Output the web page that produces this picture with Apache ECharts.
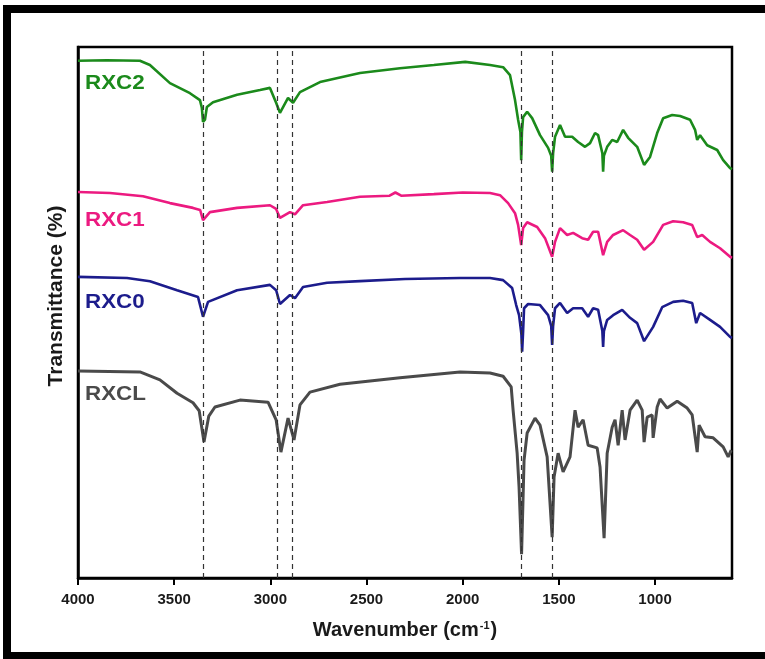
<!DOCTYPE html>
<html lang="en">
<head>
    <meta charset="UTF-8">
    <title>FTIR RXC</title>
    <style>
        html, body { margin: 0; padding: 0; background: #fff; }
        #main { width: 765px; height: 659px; }
    </style>
</head>
<body>
    <div id="main"></div>
    <script src="https://cdn.jsdelivr.net/npm/echarts@6/dist/echarts.min.js"></script>
    <script>
        // wavenumber (cm-1) and stacked transmittance
        const rxc2Wn = [4000, 3850, 3678, 3626, 3522, 3418, 3366, 3356, 3350, 3340, 3330, 3298, 3173, 3054, 3002, 2970, 2950, 2908, 2882, 2846, 2742, 2534, 2326, 2150, 1987, 1858, 1790, 1754, 1728, 1712, 1700, 1696, 1692, 1686, 1665, 1639, 1598, 1556, 1540, 1535, 1530, 1520, 1494, 1468, 1431, 1400, 1364, 1338, 1312, 1296, 1274, 1270, 1266, 1249, 1223, 1197, 1166, 1140, 1093, 1057, 1026, 989, 958, 911, 870, 818, 792, 781, 766, 729, 677, 646, 610, 600];
        const rxc2T = [97.4, 97.5, 97.4, 96.6, 93.2, 91.3, 90.0, 88.5, 85.9, 86.3, 88.7, 89.6, 91.0, 91.9, 92.3, 89.5, 87.6, 90.4, 89.5, 91.5, 93.4, 95.1, 96.0, 96.6, 97.2, 96.6, 96.2, 94.7, 90.0, 86.3, 84.0, 78.7, 84.0, 86.8, 87.8, 86.6, 83.4, 81.0, 79.5, 76.5, 80.0, 83.1, 85.3, 83.1, 83.1, 82.1, 81.2, 81.9, 83.8, 83.4, 80.0, 76.5, 79.5, 81.2, 82.5, 82.1, 84.4, 82.9, 81.2, 77.8, 79.3, 83.8, 86.6, 87.2, 87.0, 86.3, 84.4, 82.5, 83.4, 81.5, 80.6, 78.7, 77.2, 77.0];

        const rxc1Wn = [4000, 3834, 3662, 3522, 3402, 3365, 3350, 3314, 3173, 3002, 2970, 2950, 2898, 2872, 2830, 2705, 2534, 2380, 2350, 2320, 2150, 2000, 1858, 1806, 1764, 1728, 1712, 1696, 1686, 1665, 1613, 1572, 1535, 1520, 1494, 1457, 1426, 1379, 1348, 1322, 1296, 1270, 1249, 1218, 1166, 1130, 1093, 1057, 1010, 958, 906, 854, 807, 781, 755, 714, 662, 610, 600];
        const rxc1T = [72.7, 72.5, 71.9, 70.6, 69.7, 69.3, 67.4, 68.9, 69.7, 70.2, 69.5, 67.8, 68.9, 68.5, 70.2, 70.8, 71.8, 72.0, 72.6, 72.0, 72.3, 72.6, 72.5, 72.1, 70.6, 68.7, 66.5, 62.7, 65.9, 67.0, 66.1, 64.0, 60.5, 63.3, 65.9, 64.6, 65.0, 64.0, 63.7, 65.2, 65.2, 60.8, 63.3, 64.6, 65.5, 64.6, 63.7, 61.8, 63.3, 66.5, 67.2, 67.0, 66.5, 64.2, 64.6, 63.3, 62.1, 60.5, 60.3];

        const rxc0Wn = [4000, 3745, 3626, 3485, 3376, 3350, 3324, 3173, 3002, 2970, 2950, 2898, 2872, 2830, 2705, 2534, 2300, 2014, 1858, 1790, 1743, 1722, 1707, 1695, 1691, 1686, 1681, 1660, 1598, 1556, 1540, 1535, 1530, 1520, 1494, 1457, 1426, 1379, 1348, 1322, 1296, 1274, 1270, 1266, 1249, 1218, 1171, 1130, 1093, 1057, 1010, 963, 906, 854, 807, 786, 766, 714, 662, 610, 600];
        const rxc0T = [56.7, 56.5, 55.9, 54.2, 52.9, 49.2, 52.0, 54.2, 55.2, 54.2, 51.6, 53.3, 52.7, 54.8, 55.6, 55.9, 56.3, 56.5, 56.5, 56.1, 54.6, 51.4, 49.5, 46.0, 42.6, 46.5, 50.8, 51.6, 51.4, 49.5, 47.5, 43.9, 47.5, 50.8, 51.8, 49.9, 50.8, 50.8, 49.2, 50.8, 50.5, 46.5, 43.5, 46.5, 48.6, 49.5, 50.5, 49.0, 48.0, 44.6, 47.3, 51.0, 52.0, 52.2, 51.8, 48.0, 49.9, 48.6, 47.3, 45.4, 45.2];

        const rxclWn = [4000, 3678, 3574, 3485, 3402, 3370, 3345, 3320, 3288, 3158, 3012, 2970, 2945, 2908, 2877, 2846, 2794, 2638, 2326, 2014, 1858, 1790, 1748, 1738, 1717, 1707, 1694, 1681, 1665, 1624, 1598, 1561, 1535, 1525, 1504, 1478, 1442, 1416, 1400, 1374, 1348, 1301, 1286, 1265, 1249, 1223, 1208, 1192, 1171, 1156, 1130, 1093, 1067, 1057, 1041, 1015, 1010, 989, 974, 937, 885, 833, 807, 781, 771, 740, 698, 646, 620, 604];
        const rxclT = [39.0, 38.8, 37.3, 34.8, 33.0, 31.5, 25.6, 30.5, 32.2, 33.5, 33.1, 29.8, 23.7, 30.1, 26.0, 32.6, 35.0, 36.5, 37.7, 38.8, 38.6, 38.0, 36.0, 31.6, 23.5, 17.1, 4.5, 22.2, 27.3, 30.1, 28.8, 22.8, 7.7, 19.0, 23.5, 20.0, 22.8, 31.6, 28.4, 29.8, 25.0, 24.5, 20.9, 7.5, 23.5, 28.4, 29.8, 25.0, 31.6, 26.0, 31.6, 33.5, 31.6, 25.6, 30.3, 30.7, 26.4, 32.2, 33.7, 32.0, 33.3, 32.0, 30.7, 23.7, 28.8, 26.6, 26.4, 24.7, 22.8, 24.1];

        const peakLines = [3350, 2965, 2885, 1697, 1535];
        const xTicks = [4000, 3500, 3000, 2500, 2000, 1500, 1000];
        const names = ['RXC2', 'RXC1', 'RXC0', 'RXCL'];
        const colors = ['#1b8a1b', '#ec1a80', '#1c1c8c', '#4a4a4a'];

        function pairs(wn, t) {
            return wn.map(function (w, i) { return [w, t[i]]; });
        }

        const spectra = [pairs(rxc2Wn, rxc2T), pairs(rxc1Wn, rxc1T), pairs(rxc0Wn, rxc0T), pairs(rxclWn, rxclT)];
        const labelY = [83, 220, 302, 394];

        let chart = echarts.init(document.getElementById('main'));

        let series = spectra.map(function (d, i) {
            return {
                name: names[i],
                type: 'line',
                data: d,
                showSymbol: false,
                smooth: false,
                lineStyle: { color: colors[i], width: i === 3 ? 3 : 2.6 },
                z: 3
            };
        });
        // dashed guide lines at the marked bands
        series[0].markLine = {
            silent: true,
            symbol: 'none',
            label: { show: false },
            lineStyle: { color: '#333', type: [5, 4], width: 1.2 },
            data: peakLines.map(function (w) { return { xAxis: w }; })
        };

        let option = {
            animation: false,
            backgroundColor: '#fff',
            grid: {
                left: 78, top: 47, right: 33, bottom: 81,
                show: true,
                borderColor: '#000',
                borderWidth: 2.5
            },
            xAxis: {
                type: 'value',
                inverse: true,
                min: 600,
                max: 4000,
                axisLine: { show: true, lineStyle: { color: '#000', width: 2.5 } },
                axisTick: {
                    show: true, inside: false, length: 7,
                    customValues: xTicks,
                    lineStyle: { color: '#000', width: 2 }
                },
                axisLabel: {
                    customValues: xTicks,
                    formatter: function (v) { return String(v); },
                    margin: 14,
                    fontFamily: 'Arial, "Liberation Sans", sans-serif',
                    fontWeight: 'bold',
                    fontSize: 15,
                    color: '#1a1a1a'
                },
                splitLine: { show: false },
                name: 'Wavenumber (cm{sup|-1})',
                nameLocation: 'middle',
                nameGap: 42,
                nameTextStyle: {
                    fontFamily: 'Arial, "Liberation Sans", sans-serif',
                    fontWeight: 'bold',
                    fontSize: 20,
                    color: '#1a1a1a',
                    rich: {
                        sup: {
                            fontFamily: 'Arial, "Liberation Sans", sans-serif',
                            fontWeight: 'bold',
                            fontSize: 11,
                            color: '#1a1a1a',
                            verticalAlign: 'top',
                            padding: [0, 1, 9, 1]
                        }
                    }
                }
            },
            yAxis: {
                type: 'value',
                min: 0,
                max: 100,
                axisLine: { show: true, lineStyle: { color: '#000', width: 2.5 } },
                axisTick: { show: false },
                axisLabel: { show: false },
                splitLine: { show: false }
            },
            series: series,
            graphic: [
                {
                    type: 'rect',
                    shape: { x: 7, y: 9, width: 820, height: 647 },
                    style: { fill: 'none', stroke: '#000', lineWidth: 8 },
                    silent: true
                },
                {
                    type: 'text',
                    x: 56, y: 296,
                    rotation: Math.PI / 2,
                    style: {
                        text: 'Transmittance (%)',
                        fontFamily: 'Arial, "Liberation Sans", sans-serif',
                        fontWeight: 'bold',
                        fontSize: 21,
                        fill: '#1a1a1a',
                        align: 'center',
                        verticalAlign: 'middle'
                    }
                }
            ].concat(names.map(function (n, i) {
                return {
                    type: 'text',
                    x: 85, y: labelY[i],
                    scaleX: 1.12,
                    style: {
                        text: n,
                        fontFamily: 'Arial, "Liberation Sans", sans-serif',
                        fontWeight: 'bold',
                        fontSize: 20,
                        fill: colors[i],
                        align: 'left',
                        verticalAlign: 'middle'
                    },
                    z: 10
                };
            }))
        };
        chart.setOption(option);
    </script>
</body>
</html>
